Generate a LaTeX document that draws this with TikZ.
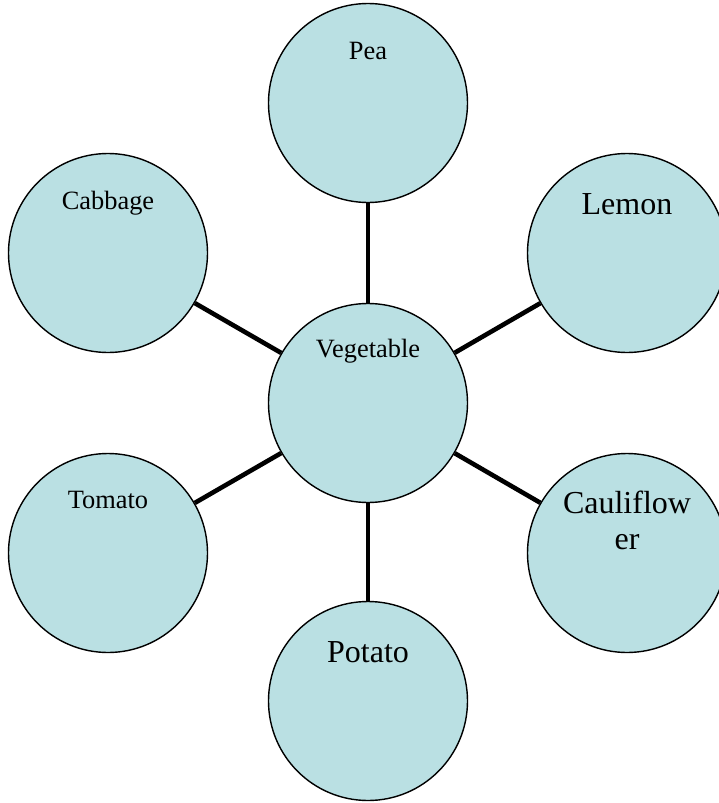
\documentclass[tikz,border=0pt]{standalone}
\usepackage{fontspec}
\setmainfont{Liberation Serif}
\usetikzlibrary{positioning}
\definecolor{vegblue}{RGB}{186,224,227}
\tikzset{
  bubble/.style={circle, draw=black, line width=1.4pt, fill=vegblue, minimum size=199pt, inner sep=0pt},
  smalltxt/.style={anchor=base, inner sep=0pt, font=\fontsize{26.4}{30}\selectfont},
  bigtxt/.style={anchor=base, inner sep=0pt, font=\fontsize{32}{36}\selectfont},
  spoke/.style={line width=4.6pt}
}
\begin{document}
\begin{tikzpicture}[x=1pt,y=-1pt]
  %Frame
  \useasboundingbox (0,0) rectangle (719,803);
  %Circles
  \node[bubble] (veg) at (368,403) {};
  \node[bubble] (pea) at (368,103) {};
  \node[bubble] (cabbage) at (108,253) {};
  \node[bubble] (lemon) at (627,253) {};
  \node[bubble] (tomato) at (108,553) {};
  \node[bubble] (caul) at (627,553) {};
  \node[bubble] (potato) at (368,701) {};
  %Spokes
  \draw[spoke] (veg) -- (pea);
  \draw[spoke] (veg) -- (cabbage);
  \draw[spoke] (veg) -- (lemon);
  \draw[spoke] (veg) -- (tomato);
  \draw[spoke] (veg) -- (caul);
  \draw[spoke] (veg) -- (potato);
  %Labels
  \node[smalltxt] (veg-t) at ([yshift=-55pt]veg.north) {Vegetable};
  \node[smalltxt] (pea-t) at ([yshift=-57pt]pea.north) {Pea};
  \node[smalltxt] (cabbage-t) at ([yshift=-57pt]cabbage.north) {Cabbage};
  \node[smalltxt] (tomato-t) at ([yshift=-56pt]tomato.north) {Tomato};
  \node[bigtxt] (lemon-t) at ([yshift=-62pt]lemon.north) {Lemon};
  \node[bigtxt] (potato-t) at ([yshift=-62pt]potato.north) {Potato};
  \node[bigtxt] (caul-t) at ([yshift=-61pt]caul.north) {Cauliflow};
  \node[bigtxt] (caul-t2) at ([yshift=-36pt]caul-t.base) {er};
\end{tikzpicture}
\end{document}
